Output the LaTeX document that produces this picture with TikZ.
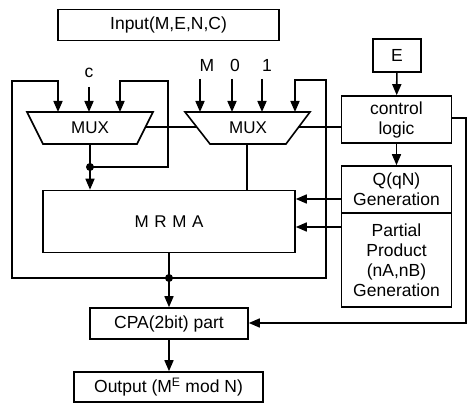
\documentclass[tikz,border=0pt]{standalone}
\usepackage{fontspec}
\setmainfont{Liberation Sans}
\usetikzlibrary{arrows.meta}
\begin{document}
\begin{tikzpicture}[x=1pt,y=-1pt,line width=1.6pt,
  box/.style={draw,rectangle,inner sep=0pt,align=center,font=\fontsize{17.5}{20}\selectfont},
  lbl/.style={inner sep=0pt,font=\fontsize{17.5}{20}\selectfont},
  muxlbl/.style={inner sep=0pt,font=\fontsize{17}{18}\selectfont},
  arr/.style={-{Triangle[length=11pt,width=9pt]}},
  jdot/.style={circle,fill,inner sep=0pt,minimum size=8pt}]
\useasboundingbox (0,0) rectangle (467,403);
% boxes
\node[box,minimum width=221pt,minimum height=31pt] (input) at (168.5,25) {Input(M,E,N,C)};
\node[box,minimum width=48pt,minimum height=33pt] (E) at (397,55.5) {E};
\node[box,minimum width=110pt,minimum height=47pt] (ctrl) at (396.5,119.5) {control\\logic};
\node[box,minimum width=110pt,minimum height=47pt] (Q) at (396.5,189.5) {Q(qN)\\Generation};
\node[box,minimum width=110pt,minimum height=94pt] (PP) at (396.5,260) {Partial\\Product\\(nA,nB)\\Generation};
\node[box,minimum width=252pt,minimum height=62pt] (mrma) at (169,221.5) {};
\node[muxlbl] at (mrma.center) {M\,\,R\,\,M\,\,A};
\node[box,minimum width=158pt,minimum height=31pt] (cpa) at (169,323.5) {CPA(2bit) part};
\node[box,minimum width=189pt,minimum height=30pt] (out) at (168.5,387) {Output (M\textsuperscript{E} mod N)};
% multiplexers
\draw (27,112) -- (153,112) -- (137,144) -- (43,144) -- cycle;
\node[muxlbl] (mux1) at (90,128) {MUX};
\draw (185,112) -- (310,112) -- (286,144) -- (210,144) -- cycle;
\node[muxlbl] (mux2) at (248,128) {MUX};
% coordinates
\coordinate (m1a) at (58,112);
\coordinate (m1b) at (89,112);
\coordinate (m1c) at (120,112);
\coordinate (m2a) at (200,112);
\coordinate (m2b) at (232,112);
\coordinate (m2c) at (262,112);
\coordinate (m2d) at (295,112);
\coordinate (m1out) at (90,144);
\coordinate (m2out) at (247,144);
\coordinate (m1r) at (145,127);
\coordinate (m2l) at (197,127);
\coordinate (m2r) at (298,127);
\node[jdot] (d1) at (90,167) {};
\node[jdot] (d2) at (169,278) {};
% labels
\node[lbl] (lc) at (89,73) {c};
\node[lbl] (lM) at (207,65) {M};
\node[lbl] (l0) at (235,65) {0};
\node[lbl] (l1) at (267,65) {1};
\draw[arr] (89,87) -- (m1b);
\draw[arr] (200,79) -- (m2a);
\draw[arr] (232,79) -- (m2b);
\draw[arr] (262,79) -- (m2c);
% mux1 output and self loop
\draw[arr] (m1out) -- (d1.center) -- (d1 |- mrma.north);
\draw[arr] (d1.center) -- (168,167) -- (168,81) -- (120,81) -- (m1c);
% outer loop
\draw (mrma.south -| d2) -- (d2.center);
\draw[arr] (d2.center) -- (12,278) -- (12,81) -- (58,81) -- (m1a);
\draw[arr] (d2.center) -- (326,278) -- (326,80) -- (295,80) -- (m2d);
\draw[arr] (d2.center) -- (cpa.north -| d2);
% interconnects
\draw (m1r) -- (m2l);
\draw (m2r) -- (ctrl.west |- m2r);
\draw (m2out) -- (m2out |- mrma.north);
\draw[arr] (E) -- (ctrl);
\draw[arr] (ctrl) -- (Q);
\draw[arr] (Q.west |- 0,199) -- (mrma.east |- 0,199);
\draw[arr] (PP.west |- 0,227) -- (mrma.east |- 0,227);
\draw[arr] (ctrl.east |- 0,118) -- (466,118) -- (466,323) -- (cpa.east |- 0,323);
\draw[arr] (cpa.south -| d2) -- (out.north -| d2);
\end{tikzpicture}
\end{document}
